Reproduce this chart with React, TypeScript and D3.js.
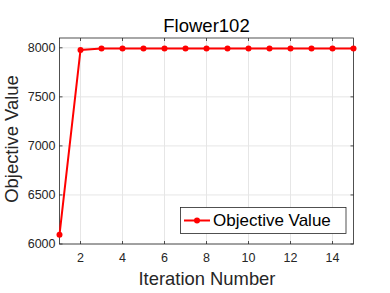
import { useEffect, useRef } from "react";
import * as d3 from "d3";

const iterations = [1, 2, 3, 4, 5, 6, 7, 8, 9, 10, 11, 12, 13, 14, 15];
const objectiveValues = [6095, 7978, 7993, 7993, 7993, 7993, 7993, 7993, 7993, 7993, 7993, 7993, 7993, 7993, 7993];
const xTicks = [2, 4, 6, 8, 10, 12, 14];
const yTicks = [6000, 6500, 7000, 7500, 8000];
const title = "Flower102";
const xLabel = "Iteration Number";
const yLabel = "Objective Value";
const legendLabel = "Objective Value";

const App = () => {
  const svgRef = useRef<SVGSVGElement>(null);

  useEffect(() => {
    const svg = d3.select(svgRef.current);
    svg.selectAll("*").remove();

    const width = 390;
    const height = 293;
    const margin = { top: 38, right: 36.5, bottom: 49, left: 59.5 };
    const font = "'Liberation Sans', Arial, sans-serif";

    const x = d3.scaleLinear().domain([1, 15]).range([margin.left, width - margin.right]);
    const y = d3.scaleLinear().domain([6000, 8100]).range([height - margin.bottom, margin.top]);

    svg.append("rect").attr("width", width).attr("height", height).attr("fill", "#fff");

    const g = svg.append("g");

    // grid
    xTicks.forEach((t) => {
      g.append("line")
        .attr("x1", x(t)).attr("x2", x(t))
        .attr("y1", margin.top).attr("y2", height - margin.bottom)
        .attr("stroke", "#e6e6e6").attr("stroke-width", 1);
    });
    yTicks.forEach((t) => {
      g.append("line")
        .attr("x1", margin.left).attr("x2", width - margin.right)
        .attr("y1", y(t)).attr("y2", y(t))
        .attr("stroke", "#e6e6e6").attr("stroke-width", 1);
    });

    // box
    const [x0, x1] = x.range();
    const [y0, y1] = y.range();
    g.append("rect")
      .attr("x", x0).attr("y", y1)
      .attr("width", x1 - x0).attr("height", y0 - y1)
      .attr("fill", "none").attr("stroke", "#262626").attr("stroke-width", 0.8);

    // ticks inside, on all four sides
    const tl = 3;
    xTicks.forEach((t) => {
      g.append("line").attr("x1", x(t)).attr("x2", x(t)).attr("y1", y0).attr("y2", y0 - tl)
        .attr("stroke", "#262626").attr("stroke-width", 0.8);
      g.append("line").attr("x1", x(t)).attr("x2", x(t)).attr("y1", y1).attr("y2", y1 + tl)
        .attr("stroke", "#262626").attr("stroke-width", 0.8);
      g.append("text").attr("x", x(t)).attr("y", y0 + 18)
        .attr("text-anchor", "middle").attr("font-family", font).attr("font-size", 12.5)
        .attr("fill", "#262626").text(t);
    });
    yTicks.forEach((t) => {
      g.append("line").attr("x1", x0).attr("x2", x0 + tl).attr("y1", y(t)).attr("y2", y(t))
        .attr("stroke", "#262626").attr("stroke-width", 0.8);
      g.append("line").attr("x1", x1).attr("x2", x1 - tl).attr("y1", y(t)).attr("y2", y(t))
        .attr("stroke", "#262626").attr("stroke-width", 0.8);
      g.append("text").attr("x", x0 - 4).attr("y", y(t)).attr("dy", "0.35em")
        .attr("text-anchor", "end").attr("font-family", font).attr("font-size", 12.5)
        .attr("fill", "#262626").text(t);
    });

    // line + markers
    const line = d3.line<number>()
      .x((_, i) => x(iterations[i]))
      .y((d) => y(d));
    g.append("path").datum(objectiveValues)
      .attr("d", line).attr("fill", "none").attr("stroke", "#ff0000").attr("stroke-width", 2);
    g.selectAll(".pt").data(objectiveValues).enter().append("circle")
      .attr("class", "pt")
      .attr("cx", (_, i) => x(iterations[i])).attr("cy", (d) => y(d))
      .attr("r", 3).attr("fill", "#ff0000");

    // title and labels
    svg.append("text").attr("x", (x0 + x1) / 2).attr("y", 32)
      .attr("text-anchor", "middle").attr("font-family", font).attr("font-size", 18.5)
      .attr("fill", "#000").text(title);
    svg.append("text").attr("x", 207).attr("y", 285)
      .attr("text-anchor", "middle").attr("font-family", font).attr("font-size", 18.4)
      .attr("fill", "#262626").text(xLabel);
    svg.append("text")
      .attr("transform", `translate(17.5,139) rotate(-90)`)
      .attr("text-anchor", "middle").attr("font-family", font).attr("font-size", 18.4)
      .attr("fill", "#262626").text(yLabel);

    // legend
    const lg = svg.append("g");
    lg.append("rect").attr("x", 180.5).attr("y", 207.5).attr("width", 165.5).attr("height", 26)
      .attr("fill", "#fff").attr("stroke", "#262626").attr("stroke-width", 0.8);
    lg.append("line").attr("x1", 184).attr("x2", 210).attr("y1", 220.5).attr("y2", 220.5)
      .attr("stroke", "#ff0000").attr("stroke-width", 2);
    lg.append("circle").attr("cx", 197).attr("cy", 220.5).attr("r", 3).attr("fill", "#ff0000");
    lg.append("text").attr("x", 213).attr("y", 220.5).attr("dy", "0.35em")
      .attr("font-family", font).attr("font-size", 17).attr("fill", "#000").text(legendLabel);
  }, []);

  return (
    <svg ref={svgRef} width={390} height={293}
      style={{ position: "absolute", left: 0, top: 0, display: "block" }} />
  );
};

export default App;
